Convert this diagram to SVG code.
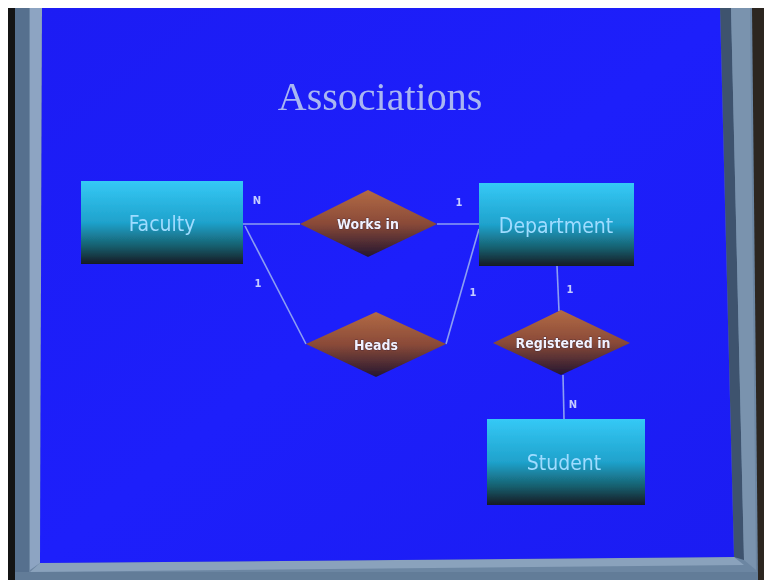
<svg xmlns="http://www.w3.org/2000/svg" width="764" height="580" viewBox="0 0 764 580">
  <defs>
    <linearGradient id="entityFill" x1="0" y1="0" x2="0" y2="1">
      <stop offset="0" stop-color="#35c9f6"/>
      <stop offset="0.5" stop-color="#1fa2cc"/>
      <stop offset="0.78" stop-color="#17606f"/>
      <stop offset="1" stop-color="#141a24"/>
    </linearGradient>
    <linearGradient id="relFill" x1="0" y1="0" x2="0" y2="1">
      <stop offset="0" stop-color="#b26a45"/>
      <stop offset="0.5" stop-color="#8a4a38"/>
      <stop offset="1" stop-color="#241630"/>
    </linearGradient>
    <linearGradient id="screenFill" x1="0" y1="0" x2="1" y2="1">
      <stop offset="0" stop-color="#1c1cf4"/>
      <stop offset="0.5" stop-color="#1d1ffb"/>
      <stop offset="1" stop-color="#1b1cf2"/>
    </linearGradient>
    <filter id="soft" x="-5%" y="-5%" width="110%" height="110%">
      <feGaussianBlur stdDeviation="0.6"/>
    </filter>
  </defs>
  <style>
    .entity { fill: url(#entityFill); }
    .rel { fill: url(#relFill); }
    .etext { font-family: "DejaVu Sans Condensed", "DejaVu Sans", Verdana, sans-serif; font-stretch: condensed; font-size: 21px; fill: #9fdcff; text-anchor: middle; }
    .rtext { font-family: "DejaVu Sans Condensed", "DejaVu Sans", Verdana, sans-serif; font-stretch: condensed; font-size: 14px; font-weight: bold; fill: #f2f2ff; text-anchor: middle; stroke: #2a1a30; stroke-width: 0.6px; paint-order: stroke; }
    .card { font-family: "DejaVu Sans", Verdana, sans-serif; font-size: 10px; font-weight: bold; fill: #c4ccff; text-anchor: middle; }
    .conn line { stroke: #8c9ef2; stroke-width: 1.6; }
    .title { font-family: "Liberation Serif", "Times New Roman", serif; font-size: 40px; fill: #a9b6f2; text-anchor: middle; }
  </style>

  <!-- surroundings and monitor frame -->
  <rect x="0" y="0" width="764" height="580" fill="#ffffff"/>
  <rect x="8" y="8" width="756" height="572" fill="#141414"/>
  <rect x="750" y="8" width="14" height="572" fill="#2c2620"/>
  <polygon points="15,8 752,8 758,580 15,580" fill="#6c86a2"/>
  <polygon points="15,8 29,8 29,580 15,580" fill="#56708e"/>
  <polygon points="30,8 42,8 40,563 30,570" fill="#8da4c2"/>
  <polygon points="720,8 731,8 744,560 734,557" fill="#3e536e"/>
  <polygon points="731,8 750,8 756,570 744,560" fill="#7a93ae"/>
  <polygon points="40,563 734,557 744,565 30,572" fill="#8aa2bc"/>
  <rect x="15" y="572" width="743" height="8" fill="#627c98"/>

  <!-- screen -->
  <polygon points="42,8 720,8 734,557 40,563" fill="url(#screenFill)"/>

  <g filter="url(#soft)">
    <text class="title" x="380" y="110">Associations</text>

    <!-- connectors -->
    <g id="connectors" class="conn">
      <line x1="243" y1="224" x2="300" y2="224"/>
      <line x1="437" y1="224" x2="479" y2="224"/>
      <line x1="245" y1="226" x2="306" y2="344"/>
      <line x1="479" y1="229" x2="446" y2="344"/>
      <line x1="557" y1="266" x2="559" y2="311"/>
      <line x1="563" y1="375" x2="564" y2="419"/>
    </g>

    <!-- cardinalities -->
    <text class="card" x="257" y="204">N</text>
    <text class="card" x="459" y="206">1</text>
    <text class="card" x="258" y="287">1</text>
    <text class="card" x="473" y="296">1</text>
    <text class="card" x="570" y="293">1</text>
    <text class="card" x="573" y="408">N</text>

    <g id="faculty">
      <rect class="entity" x="81" y="181" width="162" height="83"/>
      <text class="etext" x="162" y="231">Faculty</text>
    </g>
    <g id="department">
      <rect class="entity" x="479" y="183" width="155" height="83"/>
      <text class="etext" x="556" y="233">Department</text>
    </g>
    <g id="student">
      <rect class="entity" x="487" y="419" width="158" height="86"/>
      <text class="etext" x="564" y="470">Student</text>
    </g>

    <g id="works-in">
      <polygon class="rel" points="368,190 437,224 368,257 300,224"/>
      <text class="rtext" x="368" y="229">Works in</text>
    </g>
    <g id="heads">
      <polygon class="rel" points="376,312 446,344 376,377 306,344"/>
      <text class="rtext" x="376" y="350">Heads</text>
    </g>
    <g id="registered-in">
      <polygon class="rel" points="561,310 630,343 561,375 493,343"/>
      <text class="rtext" x="563" y="348">Registered in</text>
    </g>
  </g>
</svg>
